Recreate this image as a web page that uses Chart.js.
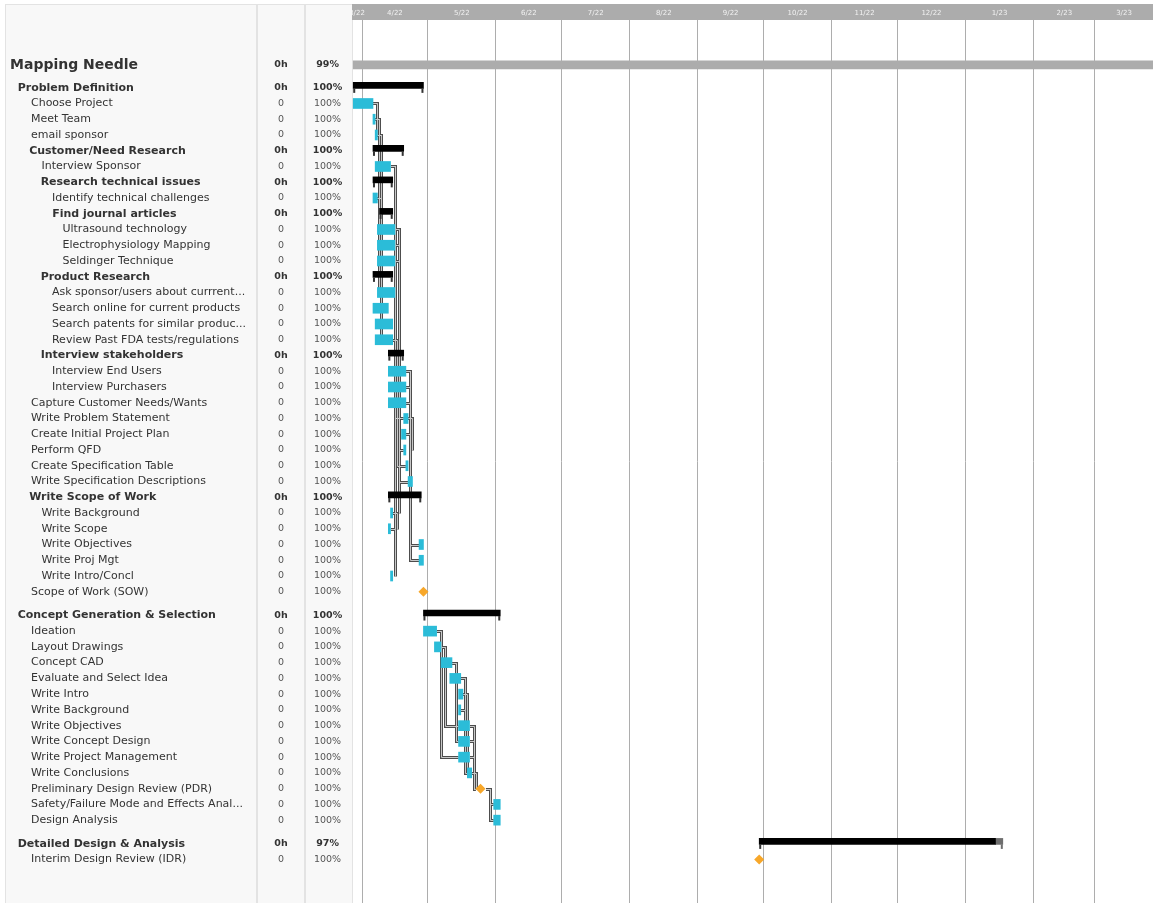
<!DOCTYPE html>
<html>
<head>
<meta charset="utf-8">
<title>Mapping Needle</title>
<script src="https://cdn.jsdelivr.net/npm/chart.js@4.4.1/dist/chart.umd.min.js"></script>
<style>
  html, body { margin: 0; padding: 0; background: #fff; }
  #wrap { position: relative; width: 1153px; height: 903px; }
</style>
</head>
<body>
<div id="wrap"><canvas id="gantt"></canvas></div>
<script>
// Gantt view of the "Mapping Needle" plan: task table on the left (three
// y axes: name / hours / % done), timeline on the right (floating bars).

const taskNames = [
  'Mapping Needle',
  'Problem Definition',
  'Choose Project',
  'Meet Team',
  'email sponsor',
  'Customer/Need Research',
  'Interview Sponsor',
  'Research technical issues',
  'Identify technical challenges',
  'Find journal articles',
  'Ultrasound technology',
  'Electrophysiology Mapping',
  'Seldinger Technique',
  'Product Research',
  'Ask sponsor/users about currrent...',
  'Search online for current products',
  'Search patents for similar produc...',
  'Review Past FDA tests/regulations',
  'Interview stakeholders',
  'Interview End Users',
  'Interview Purchasers',
  'Capture Customer Needs/Wants',
  'Write Problem Statement',
  'Create Initial Project Plan',
  'Perform QFD',
  'Create Specification Table',
  'Write Specification Descriptions',
  'Write Scope of Work',
  'Write Background',
  'Write Scope',
  'Write Objectives',
  'Write Proj Mgt',
  'Write Intro/Concl',
  'Scope of Work (SOW)',
  'Concept Generation & Selection',
  'Ideation',
  'Layout Drawings',
  'Concept CAD',
  'Evaluate and Select Idea',
  'Write Intro',
  'Write Background',
  'Write Objectives',
  'Write Concept Design',
  'Write Project Management',
  'Write Conclusions',
  'Preliminary Design Review (PDR)',
  'Safety/Failure Mode and Effects Anal...',
  'Design Analysis',
  'Detailed Design & Analysis',
  'Interim Design Review (IDR)',
];

const taskLevels = [
  0, 1, 2, 2, 2, 2, 3, 3, 4, 4,
  5, 5, 5, 3, 4, 4, 4, 4, 3, 4,
  4, 2, 2, 2, 2, 2, 2, 2, 3, 3,
  3, 3, 3, 2, 1, 2, 2, 2, 2, 2,
  2, 2, 2, 2, 2, 2, 2, 2, 1, 2,
];

const taskKinds = [
  'project', 'group', 'task', 'task', 'task', 'group', 'task', 'group', 'task', 'group',
  'task', 'task', 'task', 'group', 'task', 'task', 'task', 'task', 'group', 'task',
  'task', 'task', 'task', 'task', 'task', 'task', 'task', 'group', 'task', 'task',
  'task', 'task', 'task', 'milestone', 'group', 'task', 'task', 'task', 'task', 'task',
  'task', 'task', 'task', 'task', 'task', 'milestone', 'task', 'task', 'group', 'milestone',
];

const startDates = [
  '2022-03-28', '2022-03-28', '2022-03-28', '2022-04-06', '2022-04-07',
  '2022-04-06', '2022-04-07', '2022-04-06', '2022-04-06', '2022-04-09',
  '2022-04-08', '2022-04-08', '2022-04-08', '2022-04-06', '2022-04-08',
  '2022-04-06', '2022-04-07', '2022-04-07', '2022-04-13', '2022-04-13',
  '2022-04-13', '2022-04-13', '2022-04-20', '2022-04-19', '2022-04-20',
  '2022-04-21', '2022-04-22', '2022-04-13', '2022-04-14', '2022-04-13',
  '2022-04-27', '2022-04-27', '2022-04-14', '2022-04-29', '2022-04-29',
  '2022-04-29', '2022-05-04', '2022-05-07', '2022-05-11', '2022-05-15',
  '2022-05-15', '2022-05-15', '2022-05-15', '2022-05-15', '2022-05-19',
  '2022-05-25', '2022-05-31', '2022-05-31', '2022-09-29', '2022-09-29',
];

const endDates = [
  '2023-03-31', '2022-04-29', '2022-04-06', '2022-04-07', '2022-04-08',
  '2022-04-20', '2022-04-14', '2022-04-15', '2022-04-08', '2022-04-15',
  '2022-04-16', '2022-04-16', '2022-04-16', '2022-04-15', '2022-04-16',
  '2022-04-13', '2022-04-15', '2022-04-15', '2022-04-20', '2022-04-21',
  '2022-04-21', '2022-04-21', '2022-04-22', '2022-04-21', '2022-04-21',
  '2022-04-22', '2022-04-24', '2022-04-28', '2022-04-15', '2022-04-14',
  '2022-04-29', '2022-04-29', '2022-04-15', '2022-04-29', '2022-06-03',
  '2022-05-05', '2022-05-07', '2022-05-12', '2022-05-16', '2022-05-17',
  '2022-05-16', '2022-05-20', '2022-05-20', '2022-05-20', '2022-05-21',
  '2022-05-25', '2022-06-03', '2022-06-03', '2023-01-18', '2022-09-29',
];

const hoursLogged = [
  0, 0, 0, 0, 0, 0, 0, 0, 0, 0,
  0, 0, 0, 0, 0, 0, 0, 0, 0, 0,
  0, 0, 0, 0, 0, 0, 0, 0, 0, 0,
  0, 0, 0, 0, 0, 0, 0, 0, 0, 0,
  0, 0, 0, 0, 0, 0, 0, 0, 0, 0,
];

const percentDone = [
  99, 100, 100, 100, 100, 100, 100, 100, 100, 100,
  100, 100, 100, 100, 100, 100, 100, 100, 100, 100,
  100, 100, 100, 100, 100, 100, 100, 100, 100, 100,
  100, 100, 100, 100, 100, 100, 100, 100, 100, 100,
  100, 100, 100, 100, 100, 100, 100, 100, 97, 100,
];

// [predecessor row, successor row]
const dependencies = [
  [2, 3], [2, 4], [3, 6], [4, 8], [3, 14], [4, 15], [4, 16], [4, 17],
  [8, 10], [8, 11], [8, 12], [6, 19], [6, 20], [6, 21],
  [6, 22], [10, 24], [17, 25], [12, 26], [22, 24], [23, 25], [19, 23], [20, 23],
  [19, 30], [21, 31], [6, 29], [11, 28], [28, 29], [29, 32],
  [35, 36], [35, 43], [36, 37], [36, 41], [37, 38], [37, 42], [38, 39], [38, 40],
  [39, 44], [40, 44], [41, 45], [42, 45], [43, 45], [44, 45], [45, 46], [45, 47],
];

const monthKeys = [
  '2022-03', '2022-04', '2022-05', '2022-06', '2022-07', '2022-08', '2022-09',
  '2022-10', '2022-11', '2022-12', '2023-01', '2023-02', '2023-03',
];
const monthLabels = [
  '3/22', '4/22', '5/22', '6/22', '7/22', '8/22', '9/22',
  '10/22', '11/22', '12/22', '1/23', '2/23', '3/23',
];

// ---- helpers -------------------------------------------------------------

const DAY0 = Date.UTC(2022, 3, 1);
function dayOf(s) {
  const [y, m, d] = s.split('-').map(Number);
  return (Date.UTC(y, m - 1, d || 1) - DAY0) / 864e5;
}
function nextMonthDay(key) {
  const [y, m] = key.split('-').map(Number);
  return (Date.UTC(y, m, 1) - DAY0) / 864e5;
}

const X_MIN = -4.56, X_MAX = 360.44;   // visible window, days from 1 Apr 2022
const Y_MIN = -2.85, Y_MAX = 53.21;    // visible window, in rows
const GROUP_SHIFT = -0.15;             // summary bars sit a little high

// row positions: an extra gap before each top-level section
const rowPos = [];
{
  let p = 0;
  taskNames.forEach((_, i) => {
    if (i > 0) p += 1;
    if (i === 1) p += 0.45;
    if (i > 1 && taskLevels[i] === 1) p += 0.5;
    rowPos.push(p);
  });
}

const isSummary = (i) => taskKinds[i] === 'project' || taskKinds[i] === 'group';
const INDENT_PX = [0, 8, 20.5, 31, 42, 52];
function nameLabel(i) {
  const sp = isSummary(i) ? 3.83 : 3.5;
  return ' '.repeat(Math.round(INDENT_PX[taskLevels[i]] / sp)) + taskNames[i];
}

const rows = taskNames.map((_, i) => i);
const taskBars = rows.filter(i => taskKinds[i] === 'task')
  .map(i => ({ x: [dayOf(startDates[i]), dayOf(endDates[i])], y: rowPos[i] }));
const groupBars = rows.filter(i => taskKinds[i] === 'group').map(i => {
  const s = dayOf(startDates[i]), e = dayOf(endDates[i]);
  return { x: [s, s + (e - s) * percentDone[i] / 100], y: rowPos[i] + GROUP_SHIFT };
});
const groupRest = rows.filter(i => taskKinds[i] === 'group' && percentDone[i] < 100).map(i => {
  const s = dayOf(startDates[i]), e = dayOf(endDates[i]);
  return { x: [s + (e - s) * percentDone[i] / 100, e], y: rowPos[i] + GROUP_SHIFT };
});
const projectBars = rows.filter(i => taskKinds[i] === 'project')
  .map(i => ({ x: [dayOf(startDates[i]), dayOf(endDates[i])], y: rowPos[i] }));
const milestones = rows.filter(i => taskKinds[i] === 'milestone')
  .map(i => ({ x: dayOf(startDates[i]), y: rowPos[i] }));

// ---- plugins ---------------------------------------------------------------

const tableFrame = {
  id: 'tableFrame',
  beforeDraw(chart) {
    const { ctx, chartArea: a } = chart;
    ctx.save();
    ctx.fillStyle = '#fff';
    ctx.fillRect(0, 0, chart.width, chart.height);
    ctx.fillStyle = '#f8f8f8';
    ctx.fillRect(5, 4, a.left - 5, chart.height - 4);
    ctx.strokeStyle = '#e3e3e3';
    ctx.lineWidth = 1;
    ctx.strokeRect(5.5, 4.5, a.left - 5, chart.height);
    ctx.lineWidth = 2;
    for (const id of ['yNames', 'yHours']) {
      const xr = chart.scales[id].right;
      ctx.beginPath();
      ctx.moveTo(xr, 4);
      ctx.lineTo(xr, chart.height);
      ctx.stroke();
    }
    ctx.fillStyle = '#acacac';
    ctx.fillRect(a.left, 4, a.right - a.left, a.top - 4);
    ctx.restore();
  },
};

function startPx(x, i) {
  return taskKinds[i] === 'milestone' ? x.getPixelForValue(dayOf(startDates[i])) - 5
                                      : x.getPixelForValue(dayOf(startDates[i]));
}
function endPx(x, i) {
  return taskKinds[i] === 'milestone' ? x.getPixelForValue(dayOf(startDates[i])) + 5
                                      : x.getPixelForValue(dayOf(endDates[i]));
}

const ganttExtras = {
  id: 'ganttExtras',
  beforeDatasetsDraw(chart) {
    const { ctx, scales: { x, y }, chartArea: a } = chart;
    const paths = dependencies.map(([from, to]) => {
      const xe = Math.round(endPx(x, from)), ye = Math.round(y.getPixelForValue(rowPos[from])) + 0.5;
      const xs = startPx(x, to), ys = Math.round(y.getPixelForValue(rowPos[to])) + 0.5;
      const xv = xe + 4.5;
      return [[xe, ye], [xv, ye], [xv, ys], [Math.max(xs, xv), ys]];
    });
    ctx.save();
    ctx.beginPath();
    ctx.rect(a.left, a.top, a.right - a.left, a.bottom - a.top);
    ctx.clip();
    for (const [w, c] of [[3, '#4d4d4d'], [1, '#c8c8c8']]) {
      ctx.lineWidth = w;
      ctx.strokeStyle = c;
      for (const p of paths) {
        ctx.beginPath();
        ctx.moveTo(p[0][0], p[0][1]);
        for (let k = 1; k < p.length; k++) ctx.lineTo(p[k][0], p[k][1]);
        ctx.stroke();
      }
    }
    ctx.restore();
  },
  afterDatasetsDraw(chart) {
    const { ctx, scales: { x, y }, chartArea: a } = chart;
    // bracket ends under summary bars
    ctx.save();
    for (const i of rows.filter(r => taskKinds[r] === 'group')) {
      const yc = y.getPixelForValue(rowPos[i] + GROUP_SHIFT);
      const xs = x.getPixelForValue(dayOf(startDates[i]));
      const xe = x.getPixelForValue(dayOf(endDates[i]));
      ctx.fillStyle = '#333';
      ctx.fillRect(xs, yc + 3, 2, 4.5);
      ctx.fillStyle = percentDone[i] < 100 ? '#6e6e6e' : '#333';
      ctx.fillRect(xe - 2, yc + 3, 2, 4.5);
    }
    ctx.restore();
    // month labels in the header are clipped to the timeline columns
    ctx.save();
    ctx.beginPath();
    ctx.rect(a.left, 0, a.right - a.left, a.top);
    ctx.clip();
  },
  afterDraw(chart) {
    chart.ctx.restore();
  },
};

// ---- chart -----------------------------------------------------------------

Chart.defaults.font.family = "'DejaVu Sans', sans-serif";

const numFont = (ctx) => ({ size: 9.5, weight: isSummary(ctx.index) ? 'bold' : 'normal' });
const numColor = (ctx) => (isSummary(ctx.index) ? '#333' : '#555');
const rowTicks = (scale) => { scale.ticks = rowPos.map(v => ({ value: v })); };
const noPadding = (s) => { s.paddingTop = s.paddingBottom = s.paddingLeft = s.paddingRight = 0; };

function tableAxis(weight, width, extra) {
  return Object.assign({
    type: 'linear',
    position: 'left',
    weight,
    min: Y_MIN,
    max: Y_MAX,
    reverse: true,
    offset: false,
    grid: { display: false, drawTicks: false, offset: false },
    border: { display: false },
    afterBuildTicks: rowTicks,
    afterFit: (s) => { s.width = width; noPadding(s); },
  }, extra);
}

new Chart(document.getElementById('gantt'), {
  type: 'bar',
  data: {
    datasets: [
      {
        type: 'scatter',
        data: milestones,
        pointStyle: 'rectRot',
        pointRadius: 5,
        backgroundColor: '#f7a72a',
        borderColor: '#f7a72a',
        borderWidth: 0,
      },
      { data: taskBars, indexAxis: 'y', grouped: false, barThickness: 10, backgroundColor: '#2bbcd8', borderWidth: 0 },
      { data: groupBars, indexAxis: 'y', grouped: false, barThickness: 6, backgroundColor: '#000', borderWidth: 0 },
      { data: groupRest, indexAxis: 'y', grouped: false, barThickness: 6, backgroundColor: '#6e6e6e', borderWidth: 0 },
      { data: projectBars, indexAxis: 'y', grouped: false, barThickness: 8, backgroundColor: '#acacac', borderWidth: 0 },
    ],
  },
  options: {
    responsive: true,
    maintainAspectRatio: false,
    animation: false,
    events: [],
    layout: { autoPadding: false, padding: { left: 10, top: 4, right: 0, bottom: 0 } },
    plugins: { legend: { display: false }, tooltip: { enabled: false } },
    scales: {
      x: {
        type: 'linear',
        position: 'bottom',
        min: X_MIN,
        max: X_MAX,
        offset: false,
        grid: { color: '#adadad', lineWidth: 1, drawTicks: false, offset: false },
        border: { display: false },
        ticks: { display: false },
        afterBuildTicks: (s) => {
          s.ticks = monthKeys.map(k => dayOf(k)).filter(v => v >= X_MIN && v <= X_MAX)
            .map(v => ({ value: v }));
        },
        afterFit: (s) => { s.height = 0; noPadding(s); },
      },
      xTop: {
        type: 'linear',
        position: 'top',
        min: X_MIN,
        max: X_MAX,
        offset: false,
        grid: { display: false, drawTicks: false, offset: false },
        border: { display: false },
        ticks: {
          z: 1,
          autoSkip: false,
          maxRotation: 0,
          padding: 3,
          color: '#f2f2f2',
          font: { size: 7 },
          callback: (v, i) => monthLabels[i],
        },
        afterBuildTicks: (s) => {
          s.ticks = monthKeys.map(k => {
            const lo = Math.max(dayOf(k), X_MIN), hi = Math.min(nextMonthDay(k), X_MAX);
            return { value: (lo + hi) / 2 };
          });
        },
        afterFit: (s) => { s.height = 16; noPadding(s); },
      },
      y: tableAxis(0, 47, {
        ticks: {
          autoSkip: false, crossAlign: 'center', padding: 9.8,
          font: numFont, color: numColor,
          callback: (v, i) => percentDone[i] + '%',
        },
      }),
      yHours: tableAxis(1, 48, {
        ticks: {
          autoSkip: false, crossAlign: 'center', padding: 17.3,
          font: numFont, color: numColor,
          callback: (v, i) => hoursLogged[i] + (isSummary(i) ? 'h' : ''),
        },
      }),
      yNames: tableAxis(2, 247, {
        ticks: {
          autoSkip: false, crossAlign: 'far', padding: 0,
          font: (ctx) => taskKinds[ctx.index] === 'project' ? { size: 14, weight: 'bold' }
            : { size: 11, weight: isSummary(ctx.index) ? 'bold' : 'normal' },
          color: '#333',
          callback: (v, i) => nameLabel(i),
        },
      }),
    },
  },
  plugins: [tableFrame, ganttExtras],
});
</script>
</body>
</html>
